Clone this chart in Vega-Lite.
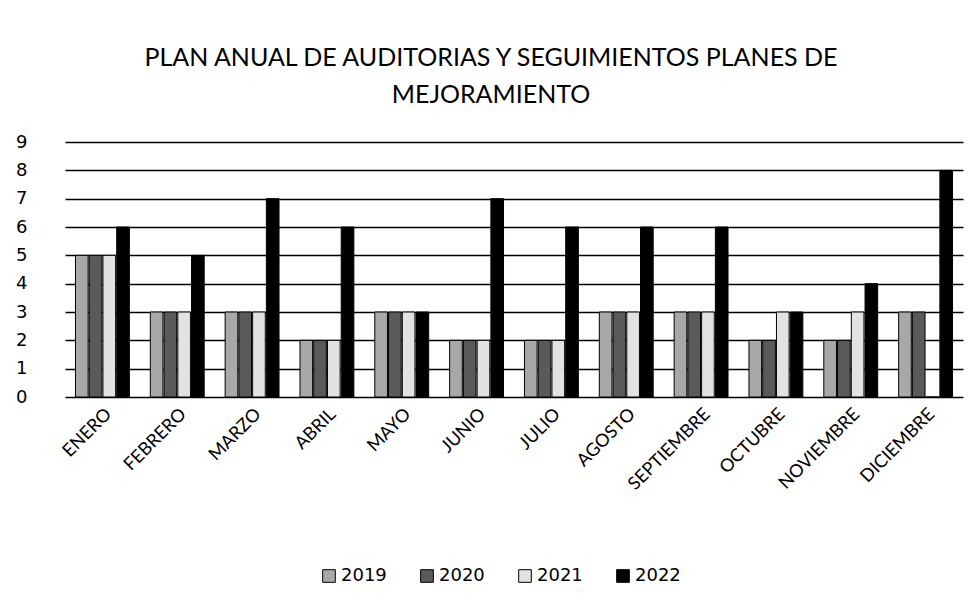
{
  "$schema": "https://vega.github.io/schema/vega-lite/v6.json",
  "autosize": "none",
  "width": 898,
  "height": 255,
  "padding": {"left": 65, "top": 142, "right": 17, "bottom": 213},
  "background": "white",
  "title": {
    "text": ["PLAN ANUAL DE AUDITORIAS Y SEGUIMIENTOS PLANES DE", "MEJORAMIENTO"],
    "anchor": "middle",
    "frame": "group",
    "dx": -23,
    "offset": 25,
    "font": "Lato",
    "fontSize": 25,
    "fontWeight": "normal",
    "color": "black",
    "lineHeight": 37
  },
  "data": {
    "values": [
      {"mes": "ENERO", "anio": "2019", "valor": 5}, {"mes": "ENERO", "anio": "2020", "valor": 5}, {"mes": "ENERO", "anio": "2021", "valor": 5}, {"mes": "ENERO", "anio": "2022", "valor": 6},
      {"mes": "FEBRERO", "anio": "2019", "valor": 3}, {"mes": "FEBRERO", "anio": "2020", "valor": 3}, {"mes": "FEBRERO", "anio": "2021", "valor": 3}, {"mes": "FEBRERO", "anio": "2022", "valor": 5},
      {"mes": "MARZO", "anio": "2019", "valor": 3}, {"mes": "MARZO", "anio": "2020", "valor": 3}, {"mes": "MARZO", "anio": "2021", "valor": 3}, {"mes": "MARZO", "anio": "2022", "valor": 7},
      {"mes": "ABRIL", "anio": "2019", "valor": 2}, {"mes": "ABRIL", "anio": "2020", "valor": 2}, {"mes": "ABRIL", "anio": "2021", "valor": 2}, {"mes": "ABRIL", "anio": "2022", "valor": 6},
      {"mes": "MAYO", "anio": "2019", "valor": 3}, {"mes": "MAYO", "anio": "2020", "valor": 3}, {"mes": "MAYO", "anio": "2021", "valor": 3}, {"mes": "MAYO", "anio": "2022", "valor": 3},
      {"mes": "JUNIO", "anio": "2019", "valor": 2}, {"mes": "JUNIO", "anio": "2020", "valor": 2}, {"mes": "JUNIO", "anio": "2021", "valor": 2}, {"mes": "JUNIO", "anio": "2022", "valor": 7},
      {"mes": "JULIO", "anio": "2019", "valor": 2}, {"mes": "JULIO", "anio": "2020", "valor": 2}, {"mes": "JULIO", "anio": "2021", "valor": 2}, {"mes": "JULIO", "anio": "2022", "valor": 6},
      {"mes": "AGOSTO", "anio": "2019", "valor": 3}, {"mes": "AGOSTO", "anio": "2020", "valor": 3}, {"mes": "AGOSTO", "anio": "2021", "valor": 3}, {"mes": "AGOSTO", "anio": "2022", "valor": 6},
      {"mes": "SEPTIEMBRE", "anio": "2019", "valor": 3}, {"mes": "SEPTIEMBRE", "anio": "2020", "valor": 3}, {"mes": "SEPTIEMBRE", "anio": "2021", "valor": 3}, {"mes": "SEPTIEMBRE", "anio": "2022", "valor": 6},
      {"mes": "OCTUBRE", "anio": "2019", "valor": 2}, {"mes": "OCTUBRE", "anio": "2020", "valor": 2}, {"mes": "OCTUBRE", "anio": "2021", "valor": 3}, {"mes": "OCTUBRE", "anio": "2022", "valor": 3},
      {"mes": "NOVIEMBRE", "anio": "2019", "valor": 2}, {"mes": "NOVIEMBRE", "anio": "2020", "valor": 2}, {"mes": "NOVIEMBRE", "anio": "2021", "valor": 3}, {"mes": "NOVIEMBRE", "anio": "2022", "valor": 4},
      {"mes": "DICIEMBRE", "anio": "2019", "valor": 3}, {"mes": "DICIEMBRE", "anio": "2020", "valor": 3}, {"mes": "DICIEMBRE", "anio": "2021", "valor": 0}, {"mes": "DICIEMBRE", "anio": "2022", "valor": 8}
    ]
  },
  "mark": {"type": "bar", "stroke": "black", "strokeWidth": 1},
  "encoding": {
    "x": {
      "field": "mes",
      "type": "nominal",
      "sort": null,
      "scale": {"paddingInner": 0.28, "paddingOuter": 0.14},
      "axis": {
        "title": null,
        "labelAngle": -45,
        "labelFont": "Lato",
        "labelFontSize": 18,
        "labelColor": "black",
        "labelPadding": 8,
        "labelOverlap": false,
        "ticks": false,
        "domain": false,
        "grid": false
      }
    },
    "xOffset": {"field": "anio", "type": "nominal", "scale": {"paddingInner": 0.08}},
    "y": {
      "field": "valor",
      "type": "quantitative",
      "scale": {"domain": [0, 9], "nice": false},
      "axis": {
        "title": null,
        "values": [0, 1, 2, 3, 4, 5, 6, 7, 8, 9],
        "labelOverlap": false,
        "grid": true,
        "gridColor": "black",
        "gridWidth": 1.5,
        "gridOpacity": 1,
        "ticks": false,
        "domain": false,
        "labelFont": "DejaVu Sans",
        "labelFontSize": 18,
        "labelColor": "black",
        "labelPadding": 38
      }
    },
    "fill": {
      "field": "anio",
      "type": "nominal",
      "scale": {"domain": ["2019", "2020", "2021", "2022"], "range": ["#a8a8a8", "#5a5a5a", "#e2e2e2", "#000000"]},
      "legend": {
        "title": null,
        "orient": "none",
        "direction": "horizontal",
        "legendX": 255,
        "legendY": 425,
        "symbolType": "square",
        "symbolSize": 160,
        "symbolStrokeColor": "black",
        "symbolStrokeWidth": 1,
        "labelFont": "DejaVu Sans",
        "labelFontSize": 18,
        "labelColor": "black",
        "columnPadding": 31,
        "labelOffset": 3
      }
    }
  },
  "config": {"view": {"stroke": null}}
}
